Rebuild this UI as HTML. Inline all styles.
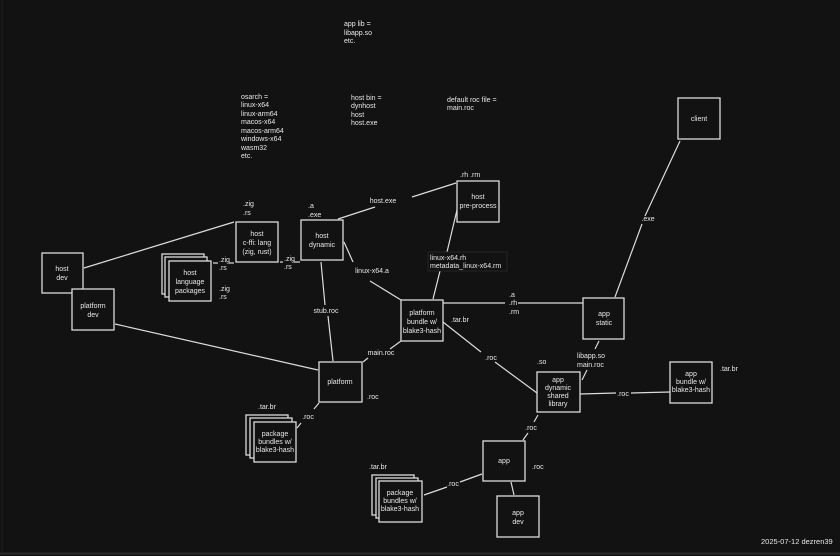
<!DOCTYPE html>
<html><head><meta charset="utf-8"><style>
html,body{margin:0;padding:0;background:#121212;}
svg{display:block}
text{font-family:"Liberation Sans",sans-serif;font-size:7px;fill:#e8e8e8}
.b{fill:#121212;stroke:#dcdcdc;stroke-width:1.3}
.l{stroke:#dcdcdc;stroke-width:1.2;fill:none}
</style></head><body>
<svg width="840" height="556" viewBox="0 0 840 556">
<rect x="0" y="0" width="840" height="556" fill="#121212"/>
<line x1="0" y1="553.5" x2="840" y2="553.5" stroke="#2a2a2a" stroke-width="2"/>
<line x1="2" y1="0" x2="2" y2="553" stroke="#1c1c1c" stroke-width="1"/>

<!-- connectors -->
<g class="l">
<line x1="84" y1="268" x2="234" y2="222"/>
<line x1="115" y1="324" x2="318" y2="370"/>
<line x1="213" y1="263" x2="218" y2="263"/>
<line x1="229" y1="263" x2="234" y2="263"/>
<line x1="280" y1="262" x2="283" y2="262"/>
<line x1="294" y1="262" x2="300" y2="262"/>
<line x1="338" y1="219" x2="375" y2="207"/>
<line x1="412" y1="197" x2="456" y2="183"/>
<line x1="321" y1="262" x2="325" y2="305"/>
<line x1="328" y1="316" x2="333" y2="361"/>
<line x1="344" y1="242" x2="353" y2="262"/>
<line x1="370" y1="281" x2="401" y2="300"/>
<line x1="457" y1="210" x2="447" y2="252"/>
<line x1="440" y1="271" x2="433" y2="299"/>
<line x1="443" y1="303" x2="505" y2="303"/>
<line x1="518" y1="303" x2="583" y2="303"/>
<line x1="680" y1="141" x2="645" y2="216"/>
<line x1="642" y1="224" x2="615" y2="297"/>
<line x1="443" y1="322" x2="481" y2="352"/>
<line x1="495" y1="362" x2="537" y2="393"/>
<line x1="363" y1="362" x2="368" y2="358"/>
<line x1="390" y1="349" x2="401" y2="341"/>
<line x1="599" y1="341" x2="595" y2="349"/>
<line x1="587" y1="370" x2="582" y2="380"/>
<line x1="580" y1="394" x2="616" y2="393"/>
<line x1="631" y1="393" x2="670" y2="392"/>
<line x1="297" y1="428" x2="301" y2="423"/>
<line x1="314" y1="409" x2="319" y2="403"/>
<line x1="538" y1="415" x2="534" y2="422"/>
<line x1="528" y1="433" x2="523" y2="440"/>
<line x1="511" y1="482" x2="514" y2="495"/>
<line x1="424" y1="495" x2="447" y2="487"/>
<line x1="460" y1="482" x2="482" y2="474"/>
</g>

<!-- boxes -->
<rect class="b" x="42" y="253" width="41" height="40"/>
<rect class="b" x="72" y="289" width="42" height="41"/>
<rect class="b" x="236" y="222" width="42" height="40"/>
<rect class="b" x="301" y="220" width="42" height="40"/>
<rect class="b" x="162" y="254" width="42" height="40"/>
<rect class="b" x="165" y="257" width="42" height="40"/>
<rect class="b" x="169" y="261" width="42" height="40"/>
<rect class="b" x="457" y="181" width="42" height="41"/>
<rect x="428" y="252" width="79" height="19" fill="#121212" stroke="#2a2a2a" stroke-width="0.8"/>
<rect class="b" x="401" y="300" width="42" height="41"/>
<rect class="b" x="583" y="298" width="41" height="41"/>
<rect class="b" x="678" y="98" width="42" height="41"/>
<rect class="b" x="537" y="372" width="43" height="40"/>
<rect class="b" x="670" y="362" width="42" height="41"/>
<rect class="b" x="319" y="362" width="43" height="40"/>
<rect class="b" x="246" y="415" width="42" height="40"/>
<rect class="b" x="250" y="418" width="42" height="40"/>
<rect class="b" x="254" y="422" width="42" height="40"/>
<rect class="b" x="483" y="441" width="42" height="40"/>
<rect class="b" x="497" y="496" width="42" height="41"/>
<rect class="b" x="372" y="475" width="42" height="40"/>
<rect class="b" x="376" y="478" width="42" height="40"/>
<rect class="b" x="379" y="481" width="43" height="41"/>

<!-- box labels -->
<g text-anchor="middle">
<text x="62" y="271">host</text><text x="62" y="280">dev</text>
<text x="93" y="308">platform</text><text x="93" y="317">dev</text>
<text x="257" y="236">host</text><text x="257" y="245">c-ffi: lang</text><text x="257" y="254">(zig, rust)</text>
<text x="322" y="238">host</text><text x="322" y="247">dynamic</text>
<text x="190" y="275">host</text><text x="190" y="284">language</text><text x="190" y="293">packages</text>
<text x="478" y="199">host</text><text x="478" y="208">pre-process</text>
<text x="422" y="315">platform</text><text x="422" y="324">bundle w/</text><text x="422" y="333">blake3-hash</text>
<text x="604" y="316">app</text><text x="604" y="325">static</text>
<text x="699" y="121">client</text>
<text x="558" y="382">app</text><text x="558" y="390">dynamic</text><text x="558" y="398">shared</text><text x="558" y="406">library</text>
<text x="691" y="376">app</text><text x="691" y="384">bundle w/</text><text x="691" y="392">blake3-hash</text>
<text x="340" y="384">platform</text>
<text x="275" y="436">package</text><text x="275" y="444">bundles w/</text><text x="275" y="452">blake3-hash</text>
<text x="504" y="463">app</text>
<text x="518" y="515">app</text><text x="518" y="524">dev</text>
<text x="400" y="495">package</text><text x="400" y="503">bundles w/</text><text x="400" y="511">blake3-hash</text>
<text x="383" y="203">host.exe</text>
<text x="326" y="313">stub.roc</text>
<text x="372" y="273">linux-x64.a</text>
<text x="381" y="355">main.roc</text>
<text x="491" y="360">.roc</text>
<text x="648" y="221">.exe</text>
<text x="623" y="396">.roc</text>
<text x="308" y="419">.roc</text>
<text x="531" y="430">.roc</text>
<text x="453" y="486">.roc</text>
</g>

<!-- edge/port labels -->
<text x="243" y="206">.zig</text><text x="243" y="215">.rs</text>
<text x="219" y="262">.zig</text><text x="219" y="270">.rs</text>
<text x="219" y="291">.zig</text><text x="219" y="299">.rs</text>
<text x="284" y="261">.zig</text><text x="284" y="269">.rs</text>
<text x="308" y="208">.a</text><text x="308" y="217">.exe</text>
<text x="460" y="177">.rh .rm</text>
<text x="430" y="260">linux-x64.rh</text><text x="430" y="268">metadata_linux-x64.rm</text>
<text x="509" y="297">.a</text><text x="509" y="305">.rh</text><text x="509" y="314">.rm</text>
<text x="451" y="322">.tar.br</text>
<text x="537" y="364">.so</text>
<text x="577" y="358">libapp.so</text><text x="577" y="367">main.roc</text>
<text x="720" y="371">.tar.br</text>
<text x="367" y="399">.roc</text>
<text x="258" y="409">.tar.br</text>
<text x="532" y="469">.roc</text>
<text x="369" y="469">.tar.br</text>

<!-- notes -->
<text x="344" y="26">app lib =</text><text x="344" y="35">libapp.so</text><text x="344" y="43">etc.</text>
<text x="241" y="99">osarch =</text><text x="241" y="107">linux-x64</text><text x="241" y="116">linux-arm64</text><text x="241" y="124">macos-x64</text><text x="241" y="133">macos-arm64</text><text x="241" y="141">windows-x64</text><text x="241" y="150">wasm32</text><text x="241" y="158">etc.</text>
<text x="351" y="100">host bin =</text><text x="351" y="108">dynhost</text><text x="351" y="117">host</text><text x="351" y="125">host.exe</text>
<text x="447" y="102">default roc file =</text><text x="447" y="110">main.roc</text>
<text x="761" y="544" style="font-size:7.5px">2025-07-12 dezren39</text>
</svg>
</body></html>
